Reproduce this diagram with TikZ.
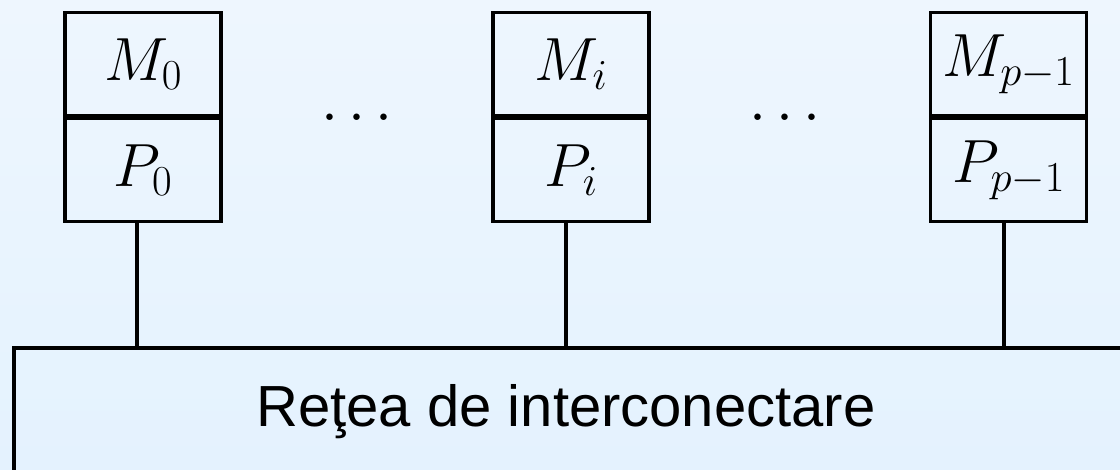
\RequirePackage{fix-cm}
\documentclass[tikz,border=0pt]{standalone}
\usepackage{fontspec}
\newfontfamily\netfont{Liberation Sans}
\definecolor{bgtop}{RGB}{238,246,254}
\definecolor{bgbot}{RGB}{228,242,254}
\begin{document}
\begin{tikzpicture}[x=1pt,y=-1pt,
  cell/.style={draw=black, line width=3.2pt, minimum width=156pt, minimum height=103pt,
    inner sep=0pt, font=\fontsize{61}{72}\selectfont},
  netbox/.style={draw=black, line width=3.2pt, inner sep=0pt},
  wire/.style={draw=black, line width=3.2pt},
  dotsnode/.style={inner sep=0pt, font=\fontsize{61}{72}\selectfont}]
\useasboundingbox (0,0) rectangle (1120,469);
\shade[top color=bgtop, bottom color=bgbot] (0,0) rectangle (1120,469);
\clip (0,0) rectangle (1120,469);
% processor/memory columns
\node[cell] (m0) at (143,64) {$M_0$};
\node[cell, anchor=north] (p0) at (m0.south) {$P_0$};
\node[cell] (mi) at (571,64) {$M_i$};
\node[cell, anchor=north] (pi) at (mi.south) {$P_i$};
\node[cell] (mp) at (1008.5,64) {$M_{p-1}$};
\node[cell, anchor=north] (pp) at (mp.south) {$P_{p-1}$};
% dots
\node[dotsnode] (d1) at (357,119) {$\cdots$};
\node[dotsnode] (d2) at (785,119) {$\cdots$};
% network
\node[netbox, minimum width=1136pt, minimum height=150pt] (net) at (582,423) {};
\node[inner sep=0pt, anchor=base, font=\netfont\fontsize{58}{70}\selectfont] (netlabel) at (566,426) {Reţea de interconectare};
% wires
\draw[wire] ([xshift=-6pt]p0.south) -- ([xshift=-6pt]p0.south |- net.north);
\draw[wire] ([xshift=-5pt]pi.south) -- ([xshift=-5pt]pi.south |- net.north);
\draw[wire] ([xshift=-4.5pt]pp.south) -- ([xshift=-4.5pt]pp.south |- net.north);
\end{tikzpicture}
\end{document}
